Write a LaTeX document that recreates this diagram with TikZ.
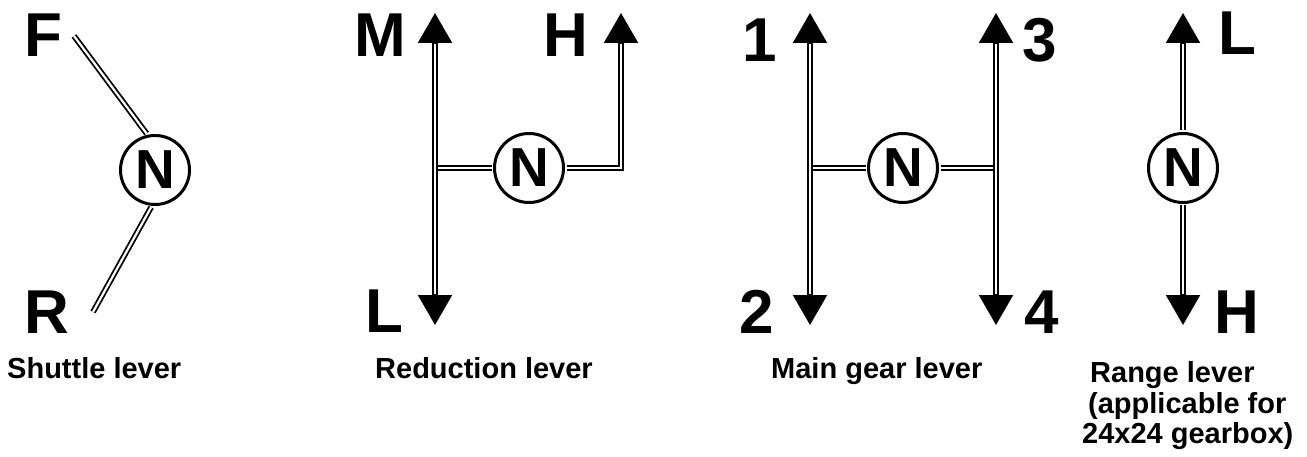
\documentclass[tikz,border=0pt]{standalone}
\usepackage{fontspec}
\setmainfont{Liberation Sans}
\usepackage{tikz}
\usetikzlibrary{arrows.meta}
\tikzset{
  rod/.style={draw, line width=1.8pt, double=white, double distance=2.2pt},
  knob/.style={circle, draw, line width=3pt, minimum size=69pt, inner sep=0pt, font=\fontsize{55}{55}\selectfont\bfseries},
  tip/.style={-{Triangle[length=30pt,width=34pt]}, line width=2pt},
  gearlbl/.style={font=\fontsize{62}{62}\selectfont\bfseries, inner sep=0pt, anchor=base},
  caption/.style={font=\fontsize{29}{31}\selectfont\bfseries, inner sep=0pt, anchor=base west}
}
\begin{document}
\begin{tikzpicture}[x=1pt, y=-1pt]
\useasboundingbox (0,0) rectangle (1307,457);
% Shuttle lever
\node[knob] (Nshut) at (155,170) {N};
\node[gearlbl] (F) at (43,57) {F};
\node[gearlbl] (R) at (47,333) {R};
\coordinate (Fend) at (74,36);
\coordinate (Rend) at (93,312);
\draw[rod, shorten >=1.5pt] (Fend) -- (Nshut.102);
\draw[rod, shorten <=1.5pt] (Nshut.265) -- (Rend);
\node[caption] (capShut) at (7,378) {Shuttle lever};
% Reduction lever
\node[knob] (Nred) at (529,168) {N};
\coordinate (Mtip) at (435,13);
\coordinate (Ltip) at (435,325);
\coordinate (Jred) at (435,168);
\coordinate (Htip) at (621,13);
\draw[rod, shorten <=1.5pt] (Nred.west) -- (Jred);
\draw[rod, shorten <=29pt, shorten >=29pt] (Mtip) -- (Ltip);
\draw[rod, shorten <=1.5pt, shorten >=29pt] (Nred.east) -| (Htip);
\draw[tip] (Mtip) ++(0,31) -- (Mtip);
\draw[tip] (Ltip) ++(0,-31) -- (Ltip);
\draw[tip] (Htip) ++(0,31) -- (Htip);
\node[gearlbl] (M) at (380,57) {M};
\node[gearlbl] (Hred) at (566,57) {H};
\node[gearlbl] (Lred) at (384,332) {L};
\node[caption] (capRed) at (375,378) {Reduction lever};
% Main gear lever
\node[knob] (Nmain) at (903,168) {N};
\coordinate (G1) at (810,13);
\coordinate (G2) at (810,325);
\coordinate (G3) at (996,13);
\coordinate (G4) at (996,325);
\coordinate (Jleft) at (810,168);
\coordinate (Jright) at (996,168);
\draw[rod, shorten <=1.5pt] (Nmain.west) -- (Jleft);
\draw[rod, shorten <=1.5pt] (Nmain.east) -- (Jright);
\draw[rod, shorten <=29pt, shorten >=29pt] (G1) -- (G2);
\draw[rod, shorten <=29pt, shorten >=29pt] (G3) -- (G4);
\draw[tip] (G1) ++(0,31) -- (G1);
\draw[tip] (G2) ++(0,-31) -- (G2);
\draw[tip] (G3) ++(0,31) -- (G3);
\draw[tip] (G4) ++(0,-31) -- (G4);
\node[gearlbl] (one) at (760,62) {1};
\node[gearlbl] (two) at (757,333) {2};
\node[gearlbl] (three) at (1040,62) {3};
\node[gearlbl] (four) at (1042,333) {4};
\node[caption] (capMain) at (771,378) {Main gear lever};
% Range lever
\node[knob] (Nrange) at (1183,168) {N};
\coordinate (RLtip) at (1183,13);
\coordinate (RHtip) at (1183,325);
\draw[rod, shorten <=1.5pt, shorten >=29pt] (Nrange.north) -- (RLtip);
\draw[rod, shorten <=1.5pt, shorten >=29pt] (Nrange.south) -- (RHtip);
\draw[tip] (RLtip) ++(0,31) -- (RLtip);
\draw[tip] (RHtip) ++(0,-31) -- (RHtip);
\node[gearlbl] (Lrange) at (1237,55) {L};
\node[gearlbl] (Hrange) at (1237,333) {H};
\node[caption] (capRange) at (1090,382) {Range lever};
\node[caption] (capApp) at (1088,413) {(applicable for};
\node[caption] (capBox) at (1082,443) {24x24 gearbox)};
\end{tikzpicture}
\end{document}
